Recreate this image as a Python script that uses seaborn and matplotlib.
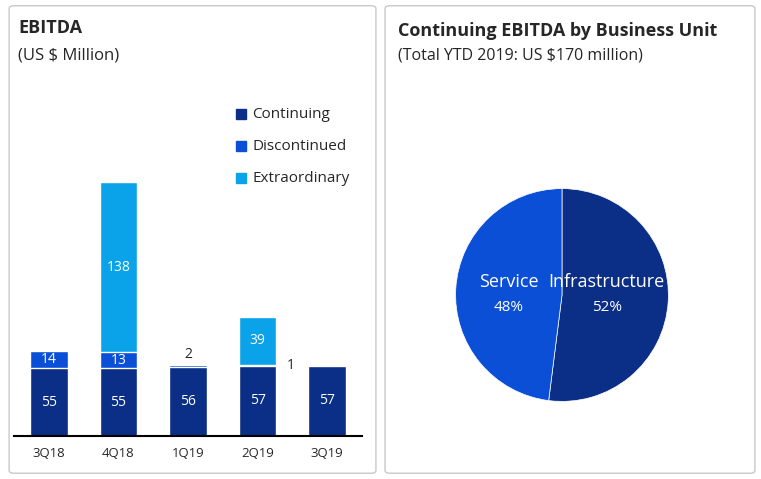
import numpy as np
import pandas as pd
import matplotlib.pyplot as plt
import seaborn as sns
from matplotlib.patches import FancyBboxPatch

sns.set_style('white')
plt.rcParams['font.family'] = ['Open Sans', 'DejaVu Sans']

quarters = ['3Q18', '4Q18', '1Q19', '2Q19', '3Q19']
continuing = [55, 55, 56, 57, 57]
discontinued = [14, 13, 2, 1, 0]
extraordinary = [0, 138, 0, 39, 0]

units = ['Infrastructure', 'Service']
shares = [52, 48]

c_cont, c_disc, c_extra = '#0b2f86', '#0a4fd6', '#0aa2e8'

fig = plt.figure(figsize=(7.61, 4.79), dpi=100)

# panel borders, behind the axes
for x0, w in [(0.012, 0.482), (0.506, 0.486)]:
    fig.add_artist(FancyBboxPatch((x0, 0.012), w, 0.976, boxstyle='round,pad=0,rounding_size=0.006',
                                  transform=fig.transFigure, fc='white', ec='#c8c8c8', lw=1, zorder=-5))

df = pd.DataFrame({'q': quarters, 'cont': continuing, 'disc': discontinued, 'extra': extraordinary})
df['cd'] = df['cont'] + df['disc']
df['total'] = df['cd'] + df['extra']

ax = fig.add_axes([14 / 761, 0.0898, 348 / 761, 0.712])
ax.patch.set_alpha(0)
for col, color in [('total', c_extra), ('cd', c_disc), ('cont', c_cont)]:
    sns.barplot(data=df, x='q', y=col, color=color, width=0.54, saturation=1, ax=ax)
ax.set_ylim(0, 277)
ax.set_xlim(-0.5, 4.5)
ax.set_xlabel('')
ax.set_ylabel('')
ax.set_yticks([])
for s in ['top', 'right', 'left']:
    ax.spines[s].set_visible(False)
ax.spines['bottom'].set_color('black')
ax.spines['bottom'].set_linewidth(1.5)
ax.tick_params(axis='x', length=0, pad=8, labelsize=9.5)

for i, r in df.iterrows():
    ax.text(i, r['cont'] / 2, str(r['cont']), ha='center', va='center', color='white', fontsize=10)
    if r['disc'] >= 10:
        ax.text(i, r['cont'] + r['disc'] / 2, str(r['disc']), ha='center', va='center', color='white', fontsize=10)
    if r['extra'] > 0:
        ax.text(i, r['cd'] + r['extra'] / 2, str(r['extra']), ha='center', va='center', color='white', fontsize=10)
ax.text(2, df.loc[2, 'cd'] + 2, '2', ha='center', va='bottom', fontsize=10)
ax.text(3.42, df.loc[3, 'cd'] - 1, '1', ha='left', va='center', fontsize=10)

# legend
for k, (lab, color) in enumerate([('Continuing', c_cont), ('Discontinued', c_disc), ('Extraordinary', c_extra)]):
    y = 1 - (114 + 32 * k) / 479
    fig.add_artist(plt.Rectangle((236 / 761, y - 0.011), 10 / 761, 0.022, transform=fig.transFigure, color=color))
    fig.text(252 / 761, y, lab, va='center', fontsize=11)

fig.text(18 / 761, 1 - 28 / 479, 'EBITDA', fontsize=13, fontweight='bold', va='center')
fig.text(18 / 761, 1 - 56 / 479, '(US $ Million)', fontsize=12, va='center')
fig.text(398 / 761, 1 - 31 / 479, 'Continuing EBITDA by Business Unit', fontsize=13, fontweight='bold', va='center')
fig.text(398 / 761, 1 - 56 / 479, '(Total YTD 2019: US $170 million)', fontsize=11.5, va='center')

# pie
r = 133
axp = fig.add_axes([(562 - r) / 761, 1 - (295 + r) / 479, 2 * r / 761, 2 * r / 479])
axp.patch.set_alpha(0)
axp.pie(shares, colors=[c_cont, c_disc], startangle=90, counterclock=False,
        wedgeprops=dict(edgecolor='white', linewidth=0.5))
axp.set_aspect('auto')
axp.text(0.42, 0.12, 'Infrastructure', color='white', ha='center', va='center', fontsize=13)
axp.text(0.42, -0.12, '52%', color='white', ha='center', va='center', fontsize=11)
axp.text(-0.5, 0.12, 'Service', color='white', ha='center', va='center', fontsize=13)
axp.text(-0.5, -0.12, '48%', color='white', ha='center', va='center', fontsize=11)

fig.savefig('out.png', dpi=100)
